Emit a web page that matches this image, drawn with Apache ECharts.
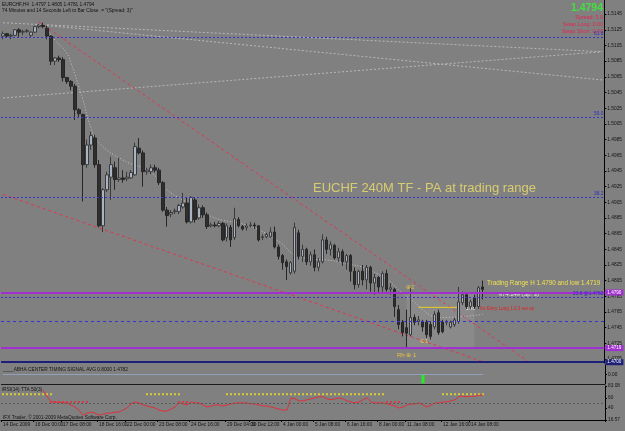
<!DOCTYPE html>
<html><head><meta charset="utf-8">
<script src="https://cdn.jsdelivr.net/npm/echarts@6/dist/echarts.min.js"></script>
<style>html,body{margin:0;padding:0;background:#808080;}#c{width:625px;height:431px;}</style>
</head><body><div id="c"></div>
<script>
// ---------------- DATA ----------------
const opens = [1.5117,1.5120,1.5117,1.5118,1.5125,1.5122,1.5123,1.5118,1.5122,1.5129,1.5131,1.5127,1.5117,1.5085,1.5089,1.5087,1.5064,1.5059,1.5053,1.5023,
1.5017,1.4953,1.4978,1.4987,1.4953,1.4875,1.4921,1.4937,1.4949,1.4934,1.4936,1.4935,1.4936,1.4940,1.4974,1.4968,1.4944,1.4944,1.4949,1.4946,
1.4930,1.4895,1.4890,1.4893,1.4893,1.4899,1.4904,1.4880,1.4908,1.4885,1.4898,1.4889,1.4875,1.4876,1.4875,1.4878,1.4860,1.4873,1.4860,1.4883,
1.4874,1.4873,1.4875,1.4876,1.4875,1.4860,1.4861,1.4861,1.4867,1.4848,1.4837,1.4829,1.4815,1.4817,1.4866,1.4836,1.4845,1.4829,1.4838,1.4822,
1.4829,1.4857,1.4845,1.4850,1.4834,1.4842,1.4829,1.4837,1.4817,1.4800,1.4817,1.4806,1.4822,1.4802,1.4809,1.4797,1.4814,1.4794,1.4794,1.4768,
1.4752,1.4745,1.4736,1.4758,1.4753,1.4752,1.4752,1.4749,1.4746,1.4764,1.4752,1.4752,1.4746,1.4749,1.4753,1.4777,1.4787,1.4772,1.4783,1.4772,1.4797];
const closes = [1.5120,1.5117,1.5118,1.5125,1.5122,1.5123,1.5124,1.5122,1.5129,1.5131,1.5129,1.5117,1.5085,1.5089,1.5087,1.5064,1.5059,1.5053,1.5023,1.5018,
1.4953,1.4978,1.4990,1.4953,1.4875,1.4921,1.4940,1.4953,1.4934,1.4936,1.4934,1.4937,1.4943,1.4976,1.4968,1.4944,1.4946,1.4949,1.4946,1.4930,
1.4895,1.4888,1.4892,1.4894,1.4901,1.4904,1.4880,1.4911,1.4883,1.4898,1.4889,1.4874,1.4876,1.4875,1.4878,1.4857,1.4875,1.4857,1.4884,1.4875,
1.4871,1.4875,1.4876,1.4875,1.4857,1.4861,1.4864,1.4867,1.4848,1.4836,1.4828,1.4823,1.4828,1.4873,1.4836,1.4845,1.4829,1.4838,1.4822,1.4829,
1.4857,1.4845,1.4851,1.4834,1.4842,1.4829,1.4837,1.4817,1.4800,1.4817,1.4806,1.4822,1.4802,1.4809,1.4797,1.4814,1.4794,1.4796,1.4772,1.4749,
1.4739,1.4738,1.4758,1.4752,1.4755,1.4746,1.4736,1.4734,1.4762,1.4739,1.4740,1.4753,1.4752,1.4755,1.4778,1.4787,1.4772,1.4778,1.4772,1.4796,1.4794];
const highs = [1.5123,1.5121,1.5120,1.5126,1.5127,1.5125,1.5126,1.5123,1.5130,1.5132,1.5134,1.5130,1.5118,1.5090,1.5092,1.5090,1.5065,1.5061,1.5056,1.5025,
1.5018,1.4985,1.4995,1.4991,1.4959,1.4923,1.4944,1.4963,1.4957,1.4962,1.4946,1.4944,1.4946,1.4981,1.4987,1.4971,1.4949,1.4953,1.4953,1.4949,
1.4932,1.4899,1.4895,1.4897,1.4903,1.4917,1.4911,1.4913,1.4911,1.4902,1.4901,1.4892,1.4879,1.4880,1.4881,1.4880,1.4878,1.4876,1.4898,1.4886,
1.4876,1.4878,1.4880,1.4879,1.4876,1.4864,1.4866,1.4873,1.4874,1.4851,1.4839,1.4832,1.4830,1.4879,1.4870,1.4851,1.4847,1.4842,1.4845,1.4834,
1.4864,1.4861,1.4855,1.4852,1.4847,1.4845,1.4839,1.4839,1.4822,1.4819,1.4825,1.4825,1.4824,1.4814,1.4811,1.4817,1.4819,1.4802,1.4796,1.4774,
1.4755,1.4768,1.4796,1.4762,1.4760,1.4755,1.4755,1.4753,1.4766,1.4768,1.4755,1.4755,1.4754,1.4758,1.4797,1.4791,1.4790,1.4781,1.4787,1.4798,1.4805];
const lows = [1.5113,1.5115,1.5113,1.5117,1.5116,1.5118,1.5121,1.5116,1.5121,1.5127,1.5127,1.5113,1.5080,1.5080,1.5084,1.5059,1.5056,1.5048,1.5010,1.5014,
1.4906,1.4949,1.4972,1.4949,1.4873,1.4867,1.4918,1.4908,1.4921,1.4931,1.4930,1.4932,1.4935,1.4939,1.4966,1.4925,1.4940,1.4941,1.4943,1.4927,
1.4893,1.4874,1.4886,1.4890,1.4890,1.4897,1.4878,1.4878,1.4879,1.4883,1.4885,1.4871,1.4873,1.4873,1.4873,1.4855,1.4855,1.4848,1.4857,1.4873,
1.4869,1.4869,1.4873,1.4871,1.4855,1.4857,1.4859,1.4860,1.4846,1.4832,1.4819,1.4806,1.4813,1.4814,1.4832,1.4829,1.4825,1.4824,1.4817,1.4817,
1.4827,1.4839,1.4837,1.4832,1.4829,1.4824,1.4819,1.4804,1.4794,1.4796,1.4799,1.4794,1.4791,1.4787,1.4790,1.4791,1.4791,1.4787,1.4759,1.4743,
1.4734,1.4719,1.4734,1.4748,1.4748,1.4740,1.4732,1.4730,1.4743,1.4736,1.4738,1.4748,1.4744,1.4746,1.4750,1.4774,1.4769,1.4769,1.4769,1.4769,1.4781];

const totalSlots = 151; // bar slots across the chart width
const timeTickBars = [0,8,15,24,31,39,47,56,62,70,78,86,94,101,110,117];
const timeTickLabels = ['14 Dec 2009','16 Dec 00:00','17 Dec 08:00','18 Dec 16:00','22 Dec 00:00','23 Dec 08:00','24 Dec 16:00','29 Dec 04:00','30 Dec 12:00','4 Jan 00:00','5 Jan 08:00','6 Jan 16:00','8 Jan 00:00','11 Jan 08:00','12 Jan 16:00','14 Jan 08:00'];
const priceTicks = [1.5145,1.5125,1.5105,1.5085,1.5065,1.5045,1.5025,1.5005,1.4985,1.4965,1.4945,1.4925,1.4905,1.4885,1.4865,1.4845,1.4825,1.4805,1.4785,1.4765,1.4745,1.4725,1.4705];

// light dotted moving average (sparse readings)
const maBars = [11,13,16,17,20,22,24,30,37,41,45,52,62,69,74,84,94,102,110,120];
const maVals = [1.5125,1.5112,1.5095,1.5083,1.5036,1.5000,1.4981,1.4959,1.4943,1.4921,1.4908,1.4887,1.4874,1.4855,1.4836,1.4829,1.4813,1.4781,1.4758,1.4762];

const fibPrices = [1.5116,1.5013,1.4911,1.4784];
const fibLabels = ['61.8','50.0','38.2','23.6 @1.4782'];
const rangeHigh = 1.4790, rangeLow = 1.4719, midLevel = 1.4753, bidPrice = 1.4794, baseLevel = 1.4700, topLevel = 1.5163;

// trend lines [bar, price]
const redUpper = [[9,1.5135],[132,1.4700]];
const redLower = [[0,1.4915],[121,1.4700]];
const greyLine1 = [[10,1.5131],[150,1.5061]];
const greyLine2 = [[0,1.5038],[150,1.5097]];
const greyLine3 = [[0,1.5134],[150,1.5097]];
const entryLine = [[104,1.4771],[114,1.4771]];

// indicator panels
const abhaZeroBars = 121;
const abhaBarIndex = 105, abhaBarValue = -2.8;
const abhaTicks = [1.2, 0, -1.2];
const rsiVals = [null,null,null,null,null,null,null,null,null,null,
75,63,52,52,51,50,50,46,42,36,26,30,32,30,26,28,30,30,32,32,
36,40,48,52,50,46,44,42,40,36,34,34,38,42,50,48,46,52,50,50,
46,42,44,46,46,44,46,48,50,50,50,50,48,48,46,44,44,42,40,38,
36,36,60,58,54,54,56,58,60,62,62,58,56,58,60,58,54,52,50,52,
56,60,52,50,50,50,48,46,44,40,42,46,48,48,50,46,42,46,50,50,
52,52,54,56,63,63,62,63,63,65,65];
const yellowDotRanges = [[0,12],[36,44],[56,95],[110,120]];
const redDotRanges = [[12,21],[44,46],[96,99]];
const yellowLevel = 67, redLevel = 52, rsiDashLevel = 50;
const rsiMin = 16.57, rsiMax = 83.08;
const rsiTicks = [83.08, 60, 40, 16.57];

// ---------------- BUILD ----------------
const cats = Array.from({length: totalSlots}, (_, i) => String(i));
const candles = opens.map((o, i) => [o, closes[i], lows[i], highs[i]]);
const maData = maBars.map((b, i) => [b, maVals[i]]);
function dotsFrom(ranges, level) {
  const out = [];
  ranges.forEach(r => { for (let b = r[0]; b <= r[1]; b++) out.push([b, level]); });
  return out;
}
const abhaLine = Array.from({length: abhaZeroBars}, (_, i) => [i, 0]);
const tickMap = {};
timeTickBars.forEach((b, i) => tickMap[b] = timeTickLabels[i]);

const FONT = 'Liberation Sans';
const FIB = '#3434d4';
const axisTxt = {fontSize: 4.8, color: '#141414', fontFamily: FONT};
const boxLabel = (txt, bg) => ({show: true, position: 'end', distance: 1, formatter: txt, backgroundColor: bg, color: '#fff',
  padding: [1, 2, 0, 2], fontSize: 4.6, fontFamily: FONT});

const chart = echarts.init(document.getElementById('c'), null, {renderer: 'canvas'});
const hiddenX = (gi) => ({type: 'category', gridIndex: gi, data: cats, boundaryGap: true,
  axisLine: {show: false}, axisTick: {show: false}, axisLabel: {show: false}, splitLine: {show: false}});

chart.setOption({
  backgroundColor: '#808080',
  animation: false,
  grid: [
    {left: 1, right: 20, top: 0, height: 363},
    {left: 1, right: 20, top: 365, height: 19},
    {left: 1, right: 20, top: 386, height: 34}
  ],
  xAxis: [hiddenX(0), hiddenX(1), {
    type: 'category', gridIndex: 2, data: cats, boundaryGap: true,
    axisLine: {show: true, lineStyle: {color: '#000'}},
    axisTick: {show: true, length: 2, interval: (i) => tickMap[i] !== undefined, lineStyle: {color: '#000'}},
    axisLabel: {show: true, interval: (i) => tickMap[i] !== undefined, formatter: (v, i) => tickMap[i] || '',
      align: 'left', margin: 2, ...axisTxt},
    splitLine: {show: false}
  }],
  yAxis: [
    {type: 'value', gridIndex: 0, position: 'right', min: baseLevel, max: topLevel,
      axisLine: {show: true, lineStyle: {color: '#000'}},
      axisTick: {show: true, length: 2, customValues: priceTicks, lineStyle: {color: '#000'}},
      axisLabel: {show: true, customValues: priceTicks, formatter: v => v.toFixed(4), margin: 3, ...axisTxt},
      splitLine: {show: false}},
    {type: 'value', gridIndex: 1, position: 'right', min: -3, max: 3,
      axisLine: {show: true, lineStyle: {color: '#000'}},
      axisTick: {show: true, length: 2, customValues: abhaTicks},
      axisLabel: {show: true, customValues: abhaTicks, formatter: v => v === 0 ? '0.00' : String(v), margin: 3, ...axisTxt},
      splitLine: {show: false}},
    {type: 'value', gridIndex: 2, position: 'right', min: rsiMin, max: rsiMax,
      axisLine: {show: true, lineStyle: {color: '#000'}},
      axisTick: {show: true, length: 2, customValues: rsiTicks},
      axisLabel: {show: true, customValues: rsiTicks, formatter: v => String(v), margin: 3, ...axisTxt},
      splitLine: {show: false}}
  ],
  series: [
    {type: 'line', xAxisIndex: 0, yAxisIndex: 0, data: maData, smooth: 0.5, symbol: 'none', connectNulls: true,
      lineStyle: {color: '#c4c4c4', width: 1, type: [1, 2]}, z: 2},
    {type: 'line', xAxisIndex: 0, yAxisIndex: 0, data: greyLine1, symbol: 'none', lineStyle: {color: '#b8b8b8', width: 1, type: [2, 2]}, z: 2},
    {type: 'line', xAxisIndex: 0, yAxisIndex: 0, data: greyLine2, symbol: 'none', lineStyle: {color: '#b8b8b8', width: 1, type: [2, 2]}, z: 2},
    {type: 'line', xAxisIndex: 0, yAxisIndex: 0, data: greyLine3, symbol: 'none', lineStyle: {color: '#b8b8b8', width: 1, type: [2, 2]}, z: 2},
    {type: 'line', xAxisIndex: 0, yAxisIndex: 0, data: redUpper, symbol: 'none', lineStyle: {color: '#e03450', width: 1, type: [3, 3]}, z: 2},
    {type: 'line', xAxisIndex: 0, yAxisIndex: 0, data: redLower, symbol: 'none', lineStyle: {color: '#e03450', width: 1, type: [3, 3]}, z: 2},
    {type: 'line', xAxisIndex: 0, yAxisIndex: 0, data: entryLine, symbol: 'none', lineStyle: {color: '#e8d020', width: 1}, z: 3},
    {type: 'candlestick', xAxisIndex: 0, yAxisIndex: 0, data: candles, barWidth: 3, z: 4,
      itemStyle: {color: '#a8b4c4', color0: '#2e2e2e', borderColor: '#3a3a3a', borderColor0: '#262626', borderWidth: 1},
      markArea: {silent: true, itemStyle: {color: 'rgba(255,255,255,0.08)'},
        data: [[{xAxis: 101, yAxis: rangeLow}, {xAxis: 118, yAxis: rangeHigh}]]},
      markLine: {silent: true, symbol: 'none', animation: false, precision: 4,
        data: [
          ...fibPrices.map((p, i) => ({yAxis: p, lineStyle: {color: FIB, width: 1, type: [2, 2]},
            label: {show: true, position: 'insideEndTop', distance: 1, formatter: fibLabels[i], color: '#2a2ac8', fontSize: 4.8, fontFamily: FONT}})),
          {yAxis: midLevel, lineStyle: {color: FIB, width: 1, type: [3, 3]}, label: {show: false}},
          {yAxis: baseLevel + 0.00005, lineStyle: {color: '#1c2078', width: 2, type: 'solid'}, label: boxLabel('1.4700', '#1c2078')},
          {yAxis: rangeLow, lineStyle: {color: '#a030d0', width: 2, type: 'solid'}, label: boxLabel('1.4719', '#a030d0')},
          {yAxis: rangeHigh, lineStyle: {color: '#a030d0', width: 2, type: 'solid'}, label: boxLabel('1.4790', '#a030d0')},
          {yAxis: bidPrice, lineStyle: {opacity: 0}, label: boxLabel('1.4794', '#000')}
        ]}},
    // ABHA panel
    {type: 'line', xAxisIndex: 1, yAxisIndex: 1, data: abhaLine, symbol: 'none', lineStyle: {color: '#8fa0b8', width: 1}},
    {type: 'bar', xAxisIndex: 1, yAxisIndex: 1, data: [[abhaBarIndex, abhaBarValue]], barWidth: 3, itemStyle: {color: '#22ee22'}},
    // RSI panel
    {type: 'line', xAxisIndex: 2, yAxisIndex: 2, data: rsiVals, symbol: 'none', lineStyle: {color: '#e0303c', width: 1},
      markLine: {silent: true, symbol: 'none', precision: 2, data: [{yAxis: rsiDashLevel, lineStyle: {color: '#5a5a5a', type: [2, 2], width: 1}, label: {show: false}}]}},
    {type: 'scatter', xAxisIndex: 2, yAxisIndex: 2, data: dotsFrom(yellowDotRanges, yellowLevel), symbol: 'rect', symbolSize: 2, itemStyle: {color: '#f0e020'}},
    {type: 'scatter', xAxisIndex: 2, yAxisIndex: 2, data: dotsFrom(redDotRanges, redLevel), symbol: 'rect', symbolSize: 2, itemStyle: {color: '#e0303c'}}
  ],
  graphic: [
    {type: 'text', left: 2, top: 2, style: {text: 'EURCHF,H4  1.4797 1.4805 1.4781 1.4794', fill: '#111', fontSize: 4.8, fontFamily: FONT}},
    {type: 'text', left: 2, top: 8, style: {text: '74 Minutes and 14 Seconds Left to Bar Close. = "(Spread: 3)"', fill: '#111', fontSize: 4.8, fontFamily: FONT}},
    {type: 'text', right: 22, top: 3, style: {text: '1.4794', fill: '#40e040', fontSize: 10.5, fontFamily: FONT, fontWeight: 'bold'}},
    {type: 'text', right: 22, top: 15, style: {text: 'Spread: 3.0', fill: '#e02850', fontSize: 5.4, fontFamily: FONT}},
    {type: 'text', right: 22, top: 22, style: {text: 'Swap Long: 0.00', fill: '#e02850', fontSize: 5.4, fontFamily: FONT}},
    {type: 'text', right: 22, top: 29, style: {text: 'Swap Short: 0.00', fill: '#e02850', fontSize: 5.4, fontFamily: FONT}},
    {type: 'text', left: 313, top: 182, style: {text: 'EUCHF 240M TF - PA at trading range', fill: '#d8cc70', fontSize: 13, fontFamily: FONT}},
    {type: 'text', left: 487, top: 280, style: {text: 'Trading Range H 1.4790 and low 1.4719', fill: '#f0e050', fontSize: 6.3, fontFamily: FONT}},
    {type: 'text', left: 499, top: 291, style: {text: '«74:14» (Sp: 3)', fill: '#e8e8e8', fontSize: 5.8, fontFamily: FONT}},
    {type: 'text', left: 466, top: 306, style: {text: '1.48', fill: '#e8e8e8', fontSize: 4.6, fontFamily: FONT}},
    {type: 'text', left: 480, top: 306, style: {text: 'for Entry Long 1:2:3 set up', fill: '#e02020', fontSize: 4.6, fontFamily: FONT}},
    {type: 'text', left: 406, top: 284, style: {text: '⊕2', fill: '#e8c040', fontSize: 6, fontFamily: FONT}},
    {type: 'text', left: 420, top: 338, style: {text: '⊕1', fill: '#e8c040', fontSize: 6, fontFamily: FONT}},
    {type: 'text', left: 397, top: 352, style: {text: 'Rh ⊕ 1', fill: '#e8c040', fontSize: 6, fontFamily: FONT}},
    {type: 'text', left: 3, top: 367, style: {text: '____ABHA CENTER TIMING SIGNAL AVG 0.8000 1.4782', fill: '#141414', fontSize: 4.8, fontFamily: FONT}},
    {type: 'text', left: 2, top: 387, style: {text: 'iRSI(14) TTA 50(3)', fill: '#141414', fontSize: 4.8, fontFamily: FONT}},
    {type: 'text', left: 3, top: 415, style: {text: 'IFX Trader, © 2001-2009 MetaQuotes Software Corp.', fill: '#141414', fontSize: 4.8, fontFamily: FONT}},
    {type: 'rect', left: 1, top: 384, shape: {width: 604, height: 1}, style: {fill: '#1a1a1a'}}
  ]
});
</script></body></html>
